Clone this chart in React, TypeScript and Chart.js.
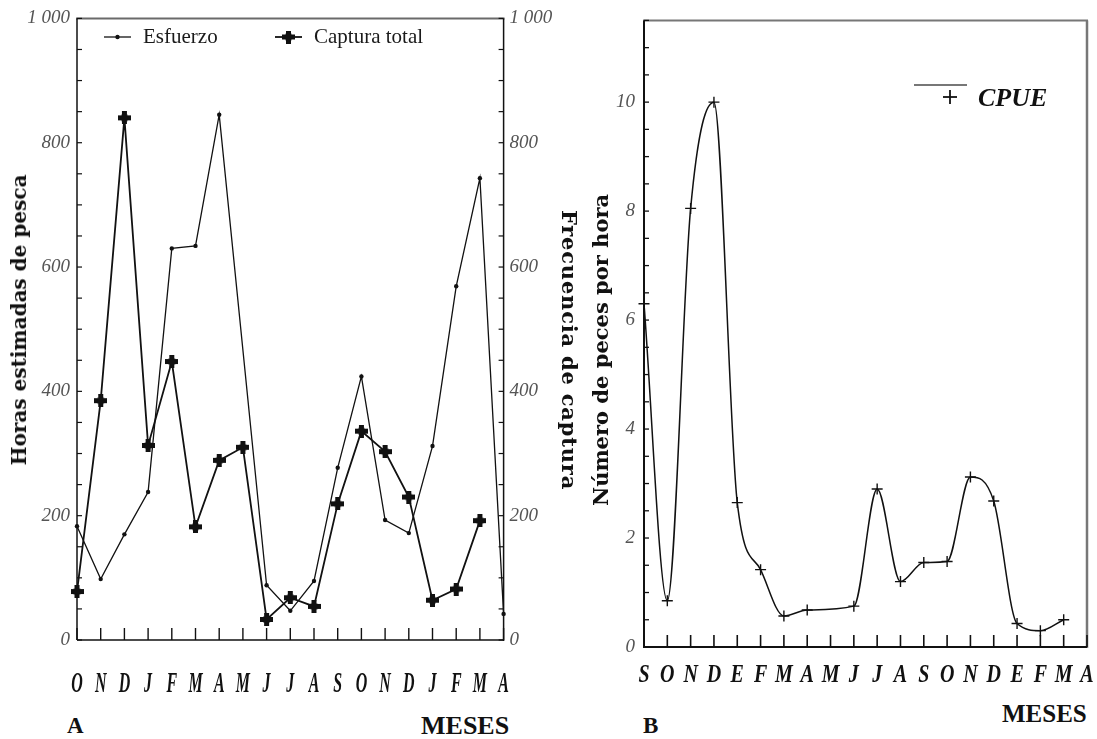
import React, { useEffect, useRef } from 'react';
import { Chart, registerables } from 'chart.js';

Chart.register(...registerables);

// ---------- data ----------
const monthsA = ['O', 'N', 'D', 'J', 'F', 'M', 'A', 'M', 'J', 'J', 'A', 'S', 'O', 'N', 'D', 'J', 'F', 'M', 'A'];
const esfuerzo = [183, 98, 170, 238, 630, 634, 845, null, 88, 47, 95, 277, 424, 193, 172, 312, 569, 743, 42];
const capturaTotal = [78, 385, 840, 313, 448, 182, 289, 310, 33, 68, 54, 219, 336, 303, 230, 64, 82, 192, null];
const yTickValuesA = [0, 200, 400, 600, 800, 1000];
const yTickLabelsA = ['0', '200', '400', '600', '800', '1 000'];

const monthsB = ['S', 'O', 'N', 'D', 'E', 'F', 'M', 'A', 'M', 'J', 'J', 'A', 'S', 'O', 'N', 'D', 'E', 'F', 'M', 'A'];
const cpue = [6.3, 0.85, 8.05, 10.0, 2.65, 1.42, 0.57, 0.68, null, 0.75, 2.9, 1.2, 1.55, 1.57, 3.12, 2.68, 0.43, 0.3, 0.5, null];
const yTickValuesB = [0, 2, 4, 6, 8, 10];
const yTickLabelsB = ['0', '2', '4', '6', '8', '10'];

// ---------- style ----------
const SERIF = '"Liberation Serif", "Times New Roman", serif';
const TITLE_FONT = '"DejaVu Serif", "Liberation Serif", serif';
const INK = '#111';

const A_LEFT = 0, A_W = 564, A_H = 700;
const B_LEFT = 600, B_W = 497, B_H = 700;

function makePlus(size: number, arm: number): HTMLCanvasElement {
  const c = document.createElement('canvas');
  c.width = size;
  c.height = size;
  const g = c.getContext('2d')!;
  g.fillStyle = INK;
  const o = (size - arm) / 2;
  g.fillRect(o, 0, arm, size);
  g.fillRect(0, o, size, arm);
  g.beginPath();
  g.arc(size / 2, size / 2, arm * 0.8, 0, Math.PI * 2);
  g.fill();
  return c;
}

function seg(ctx: CanvasRenderingContext2D, x1: number, y1: number, x2: number, y2: number, color: string, w: number) {
  ctx.beginPath();
  ctx.strokeStyle = color;
  ctx.lineWidth = w;
  ctx.moveTo(x1, y1);
  ctx.lineTo(x2, y2);
  ctx.stroke();
}

function labelFor(values: number[], labels: string[], v: number): string {
  for (let i = 0; i < values.length; i++) {
    if (Math.abs(values[i] - v) < 1e-6) return labels[i];
  }
  return '';
}

function drawXLabels(chart: any, font: string, sx: number, off: number) {
  const ctx: CanvasRenderingContext2D = chart.ctx;
  const xs = chart.scales.x;
  const ca = chart.chartArea;
  (chart.data.labels as string[]).forEach((lab, i) => {
    const x = xs.getPixelForTick(i);
    ctx.save();
    ctx.translate(x, ca.bottom + off);
    ctx.scale(sx, 1);
    ctx.font = font;
    ctx.textAlign = 'center';
    ctx.textBaseline = 'alphabetic';
    ctx.fillStyle = INK;
    ctx.fillText(String(lab), 0, 0);
    ctx.restore();
  });
}

function drawXTicks(chart: any, len: number, w: number) {
  const ctx: CanvasRenderingContext2D = chart.ctx;
  const xs = chart.scales.x;
  const ca = chart.chartArea;
  (chart.data.labels as string[]).forEach((_l, i) => {
    const x = xs.getPixelForTick(i);
    seg(ctx, x, ca.bottom, x, ca.bottom - len, INK, w);
  });
}

function drawYTicks(chart: any, id: string, side: 'left' | 'right', len: number, w: number) {
  const ctx: CanvasRenderingContext2D = chart.ctx;
  const s = chart.scales[id];
  const ca = chart.chartArea;
  s.ticks.forEach((t: any) => {
    const y = s.getPixelForValue(t.value);
    if (side === 'left') seg(ctx, ca.left, y, ca.left + len, y, INK, w);
    else seg(ctx, ca.right, y, ca.right - len, y, INK, w);
  });
}

// ---------- chart A ----------
function configA(): any {
  const plus = makePlus(13, 5);
  const decor = {
    id: 'decorA',
    beforeDatasetsDraw(chart: any) {
      const ctx: CanvasRenderingContext2D = chart.ctx;
      const ca = chart.chartArea;
      ctx.save();
      seg(ctx, ca.left - 1, ca.top, ca.right + 1, ca.top, '#6a6a6a', 2);
      seg(ctx, ca.left, ca.top, ca.left, ca.bottom, INK, 1.5);
      seg(ctx, ca.right, ca.top, ca.right, ca.bottom + 1, INK, 1.5);
      seg(ctx, ca.left, ca.bottom, ca.right, ca.bottom, INK, 1.6);
      drawYTicks(chart, 'y', 'left', 5, 1.2);
      drawYTicks(chart, 'y1', 'right', 5, 1.2);
      drawXTicks(chart, 12, 1.4);
      ctx.restore();
    },
    afterDraw(chart: any) {
      const ctx: CanvasRenderingContext2D = chart.ctx;
      ctx.save();
      drawXLabels(chart, `italic bold 29px ${SERIF}`, 0.55, 52);
      // legend
      const ds = chart.data.datasets;
      const lx = [104 - A_LEFT, 275 - A_LEFT];
      const ly = 37;
      ds.forEach((d: any, i: number) => {
        const x0 = lx[i];
        seg(ctx, x0, ly, x0 + 27, ly, INK, d.borderWidth);
        if (i === 0) {
          ctx.beginPath();
          ctx.fillStyle = INK;
          ctx.arc(x0 + 13.5, ly, 2.2, 0, Math.PI * 2);
          ctx.fill();
        } else {
          ctx.drawImage(plus, x0 + 13.5 - plus.width / 2, ly - plus.height / 2);
        }
        ctx.font = `21px ${SERIF}`;
        ctx.fillStyle = '#1a1a1a';
        ctx.textAlign = 'left';
        ctx.textBaseline = 'alphabetic';
        ctx.fillText(d.label, x0 + 39, 43);
      });
      ctx.restore();
    },
  };
  const tickFont = { family: SERIF, size: 19, style: 'italic' as const };
  return {
    type: 'line',
    data: {
      labels: monthsA,
      datasets: [
        {
          label: 'Esfuerzo',
          data: esfuerzo,
          yAxisID: 'y',
          borderColor: INK,
          backgroundColor: INK,
          borderWidth: 1.3,
          pointRadius: 2.2,
          pointStyle: 'circle',
          pointBorderWidth: 0,
          pointBackgroundColor: INK,
          tension: 0,
          spanGaps: true,
          clip: false,
        },
        {
          label: 'Captura total',
          data: capturaTotal,
          yAxisID: 'y1',
          borderColor: INK,
          backgroundColor: INK,
          borderWidth: 1.8,
          pointStyle: plus,
          pointRadius: 6,
          tension: 0,
          spanGaps: false,
          clip: false,
        },
      ],
    },
    options: {
      animation: false,
      responsive: true,
      maintainAspectRatio: false,
      layout: { padding: { top: 15, right: 0, bottom: 0, left: 0 } },
      plugins: { legend: { display: false }, tooltip: { enabled: false } },
      events: [],
      scales: {
        x: {
          type: 'category',
          offset: false,
          grid: { display: false, drawTicks: false },
          border: { display: false },
          ticks: { display: false },
          afterFit: (s: any) => { s.height = A_H - 640; },
        },
        y: {
          position: 'left',
          min: 0,
          max: 1000,
          grid: { display: false, drawTicks: false },
          border: { display: false },
          ticks: {
            stepSize: 50,
            maxTicksLimit: 100,
            autoSkip: false,
            padding: 7,
            color: '#555',
            font: tickFont,
            callback: (v: number) => labelFor(yTickValuesA, yTickLabelsA, v),
          },
          afterFit: (s: any) => { s.width = 77; },
        },
        y1: {
          position: 'right',
          min: 0,
          max: 1000,
          grid: { display: false, drawTicks: false },
          border: { display: false },
          ticks: {
            stepSize: 50,
            maxTicksLimit: 100,
            autoSkip: false,
            padding: 6,
            color: '#555',
            font: tickFont,
            callback: (v: number) => labelFor(yTickValuesA, yTickLabelsA, v),
          },
          afterFit: (s: any) => { s.width = A_W - 503.6; },
        },
      },
    },
    plugins: [decor],
  };
}

// ---------- chart B ----------
function configB(): any {
  const decor = {
    id: 'decorB',
    beforeDatasetsDraw(chart: any) {
      const ctx: CanvasRenderingContext2D = chart.ctx;
      const ca = chart.chartArea;
      ctx.save();
      seg(ctx, ca.left - 1, ca.top, ca.right + 1, ca.top, '#777', 2);
      seg(ctx, ca.right, ca.top, ca.right, ca.bottom + 1, '#777', 2.5);
      seg(ctx, ca.left, ca.top, ca.left, ca.bottom + 1, INK, 2);
      seg(ctx, ca.left, ca.bottom, ca.right, ca.bottom, INK, 2);
      drawYTicks(chart, 'y', 'left', 5, 1.3);
      drawXTicks(chart, 12, 1.6);
      ctx.restore();
    },
    afterDraw(chart: any) {
      const ctx: CanvasRenderingContext2D = chart.ctx;
      ctx.save();
      drawXLabels(chart, `italic bold 25px ${SERIF}`, 0.8, 35);
      // legend
      const d = chart.data.datasets[0];
      const x0 = 914 - B_LEFT;
      seg(ctx, x0, 85, x0 + 53, 85, '#777', 1.8);
      const px = 950 - B_LEFT, py = 97;
      seg(ctx, px - 7, py, px + 7, py, INK, 1.8);
      seg(ctx, px, py - 7, px, py + 7, INK, 1.8);
      ctx.font = `italic bold 26px ${SERIF}`;
      ctx.fillStyle = INK;
      ctx.textAlign = 'left';
      ctx.textBaseline = 'alphabetic';
      ctx.fillText(d.label, 978 - B_LEFT, 106);
      ctx.restore();
    },
  };
  return {
    type: 'line',
    data: {
      labels: monthsB,
      datasets: [
        {
          label: 'CPUE',
          data: cpue,
          borderColor: INK,
          backgroundColor: INK,
          borderWidth: 1.5,
          pointStyle: 'cross',
          pointRadius: 5.5,
          pointBorderWidth: 1.4,
          pointBorderColor: INK,
          cubicInterpolationMode: 'monotone',
          tension: 0.4,
          spanGaps: true,
          clip: false,
        },
      ],
    },
    options: {
      animation: false,
      responsive: true,
      maintainAspectRatio: false,
      layout: { padding: { top: 16, right: 10, bottom: 0, left: 0 } },
      plugins: { legend: { display: false }, tooltip: { enabled: false } },
      events: [],
      scales: {
        x: {
          type: 'category',
          offset: false,
          grid: { display: false, drawTicks: false },
          border: { display: false },
          ticks: { display: false },
          afterFit: (s: any) => { s.height = B_H - 647; },
        },
        y: {
          position: 'left',
          min: 0,
          max: 11.5,
          grid: { display: false, drawTicks: false },
          border: { display: false },
          ticks: {
            stepSize: 0.5,
            maxTicksLimit: 100,
            autoSkip: false,
            padding: 9,
            color: '#555',
            font: { family: SERIF, size: 19, style: 'italic' as const },
            callback: (v: number) => labelFor(yTickValuesB, yTickLabelsB, v),
          },
          afterFit: (s: any) => { s.width = 644 - B_LEFT; },
        },
      },
    },
    plugins: [decor],
  };
}

// ---------- component ----------
const abs: React.CSSProperties = { position: 'absolute', whiteSpace: 'nowrap', lineHeight: 1, color: '#111' };

function VTitle(props: { text: string; cx: number; cy: number; rot: number; size: number; spacing?: number }) {
  return (
    <div
      style={{
        ...abs,
        left: props.cx,
        top: props.cy,
        fontFamily: TITLE_FONT,
        fontWeight: 'bold',
        fontSize: props.size,
        letterSpacing: props.spacing || 0,
        transform: `translate(-50%, -50%) rotate(${props.rot}deg)`,
      }}
    >
      {props.text}
    </div>
  );
}

export default function App() {
  const refA = useRef<HTMLCanvasElement>(null);
  const refB = useRef<HTMLCanvasElement>(null);

  useEffect(() => {
    const a = new Chart(refA.current as HTMLCanvasElement, configA());
    const b = new Chart(refB.current as HTMLCanvasElement, configB());
    return () => {
      a.destroy();
      b.destroy();
    };
  }, []);

  return (
    <div
      style={{
        position: 'absolute',
        left: 0,
        top: 0,
        width: 1097,
        height: 739,
        overflow: 'hidden',
        background: '#fff',
        fontFamily: SERIF,
      }}
    >
      <div style={{ position: 'absolute', left: A_LEFT, top: 0, width: A_W, height: A_H }}>
        <canvas ref={refA} />
      </div>
      <div style={{ position: 'absolute', left: B_LEFT, top: 0, width: B_W, height: B_H }}>
        <canvas ref={refB} />
      </div>

      <VTitle text="Horas estimadas de pesca" cx={19} cy={320} rot={-90} size={20} />
      <VTitle text="Frecuencia de captura" cx={569} cy={350} rot={90} size={21} spacing={0.8} />
      <VTitle text="Número de peces por hora" cx={600} cy={350} rot={-90} size={21} />

      <div style={{ ...abs, left: 67, top: 714, fontSize: 23, fontWeight: 'bold' }}>A</div>
      <div style={{ ...abs, left: 421, top: 713, fontSize: 26, fontWeight: 'bold' }}>MESES</div>
      <div style={{ ...abs, left: 643, top: 714, fontSize: 23, fontWeight: 'bold' }}>B</div>
      <div style={{ ...abs, left: 1002, top: 701, fontSize: 25, fontWeight: 'bold' }}>MESES</div>
    </div>
  );
}
